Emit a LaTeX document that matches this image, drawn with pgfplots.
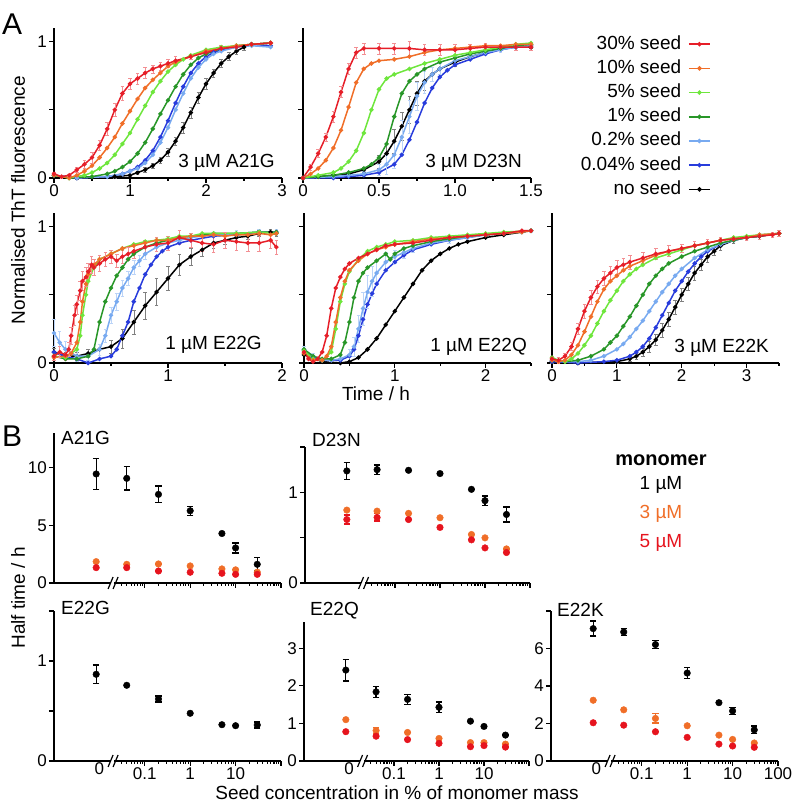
\documentclass[border=0pt]{standalone}
\usepackage{fontspec}
\setmainfont{Liberation Sans}
\usepackage{pgfplots}
\pgfplotsset{compat=1.18}
\definecolor{cR}{RGB}{230,30,40}
\definecolor{cO}{RGB}{240,110,40}
\definecolor{cLG}{RGB}{110,230,60}
\definecolor{cDG}{RGB}{40,150,40}
\definecolor{cLB}{RGB}{120,170,240}
\definecolor{cB}{RGB}{40,60,220}
\definecolor{bO}{RGB}{240,110,40}
\definecolor{bR}{RGB}{230,20,30}
\newcommand{\lbl}{\fontsize{19}{23}\selectfont}
\newcommand{\tkl}{\fontsize{17}{20}\selectfont}
\newcommand{\brk}{%
  \draw[white, line width=4pt] (axis cs:0.0175,0) -- (axis cs:0.0215,0);
  \draw[line width=1.2pt] ([xshift=-5pt,yshift=-6pt]axis cs:0.02,0) -- ++(5pt,12pt);
  \draw[line width=1.2pt] ([xshift=0pt,yshift=-6pt]axis cs:0.02,0) -- ++(5pt,12pt);}
\pgfplotsset{
  base/.style={scale only axis, anchor=south west, axis x line*=bottom, axis y line*=left,
    axis line style={line width=1.3pt}, tick align=outside, major tick length=5pt, minor tick length=3pt,
    tick style={line width=1.1pt, black}, tick label style={font=\tkl},
    xticklabel style={inner sep=1.5pt}, yticklabel style={inner sep=2pt},
    /pgf/number format/assume math mode=true, clip=false, ymin=0},
  Aax/.style={base, height=150pt, ymax=1.1, ytick={0,0.5,1}, yticklabels={}, xmin=0},
  curve/.style={line width=1.5pt, mark=*, mark size=1.4pt, color=#1},
  ecurve/.style={curve=#1, error bars/y dir=both, error bars/y explicit,
    error bars/error bar style={line width=0.6pt,#1!50},
    error bars/error mark options={rotate=90,mark size=1.8pt,line width=0.6pt,#1!50}},
  Bax/.style={base, xmin=0.001, xmax=100, width=227pt,
    xtick={0.1,1,10,100}, xticklabels={},
    minor xtick={0.03,0.04,0.05,0.06,0.07,0.08,0.09,0.2,0.3,0.4,0.5,0.6,0.7,0.8,0.9,2,3,4,5,6,7,8,9,20,30,40,50,60,70,80,90},
    extra x ticks={0.01}, extra x tick labels={}, extra x tick style={major tick length=0pt}},
  berr/.style={only marks, mark=*, mark size=3.3pt, color=#1,
    error bars/y dir=both, error bars/y explicit,
    error bars/error bar style={line width=1.3pt,#1},
    error bars/error mark options={rotate=90,mark size=3.2pt,line width=1.3pt,#1}},
}
\begin{document}
\begin{tikzpicture}
\useasboundingbox (0pt,0pt) rectangle (793pt,806pt);

% ---------------- A1: A21G
\begin{axis}[Aax, at={(54pt,628pt)}, width=228pt, xmax=3, xtick={0,1,2,3}, minor xtick={0.5,1.5,2.5}, yticklabels={0,,1}]
\addplot[ecurve=black] coordinates {(0,0.02)+-(0,0.01)(0.3,0.0)+-(0,0.01)(0.8,0.01)+-(0,0.01)(1.0,0.02)+-(0,0.01)(1.1,0.04)+-(0,0.01)(1.2,0.06)+-(0,0.02)(1.3,0.09)+-(0,0.02)(1.4,0.13)+-(0,0.02)(1.5,0.19)+-(0,0.03)(1.6,0.27)+-(0,0.03)(1.7,0.37)+-(0,0.04)(1.8,0.48)+-(0,0.04)(1.9,0.59)+-(0,0.04)(2.0,0.69)+-(0,0.04)(2.1,0.77)+-(0,0.03)(2.2,0.84)+-(0,0.03)(2.3,0.89)+-(0,0.03)(2.4,0.93)+-(0,0.02)(2.5,0.96)+-(0,0.02)(2.6,0.98)+-(0,0.01)(2.85,0.99)+-(0,0.01)};
\addplot[curve=cB] coordinates {(0,0.02)(0.3,0.0)(0.7,0.01)(0.9,0.03)(1.0,0.05)(1.1,0.08)(1.2,0.13)(1.3,0.2)(1.4,0.3)(1.5,0.42)(1.6,0.55)(1.7,0.67)(1.8,0.77)(1.9,0.84)(2.0,0.89)(2.1,0.92)(2.2,0.94)(2.4,0.96)(2.6,0.98)(2.85,0.97)};
\addplot[curve=cLB] coordinates {(0,0.02)(0.3,0.0)(0.7,0.01)(0.9,0.03)(1.0,0.05)(1.1,0.07)(1.2,0.11)(1.3,0.17)(1.4,0.26)(1.5,0.37)(1.6,0.5)(1.7,0.62)(1.8,0.73)(1.9,0.81)(2.0,0.87)(2.1,0.91)(2.2,0.93)(2.4,0.96)(2.6,0.97)(2.85,0.96)};
\addplot[curve=cDG] coordinates {(0,0.02)(0.2,0.0)(0.5,0.01)(0.7,0.03)(0.8,0.05)(0.9,0.08)(1.0,0.12)(1.1,0.18)(1.2,0.26)(1.3,0.36)(1.4,0.47)(1.5,0.57)(1.6,0.67)(1.7,0.76)(1.8,0.83)(1.9,0.88)(2.0,0.91)(2.2,0.95)(2.4,0.97)(2.6,0.98)(2.85,0.99)};
\addplot[curve=cLG] coordinates {(0,0.02)(0.2,0.0)(0.4,0.02)(0.5,0.04)(0.6,0.07)(0.7,0.11)(0.8,0.17)(0.9,0.25)(1.0,0.33)(1.1,0.43)(1.2,0.53)(1.3,0.63)(1.4,0.71)(1.5,0.78)(1.6,0.83)(1.7,0.87)(1.8,0.9)(2.0,0.94)(2.2,0.96)(2.4,0.97)(2.6,0.98)(2.85,0.99)};
\addplot[curve=cO] coordinates {(0,0.02)(0.2,0.0)(0.3,0.02)(0.4,0.05)(0.5,0.09)(0.6,0.15)(0.7,0.22)(0.8,0.3)(0.9,0.4)(1.0,0.49)(1.1,0.58)(1.2,0.66)(1.3,0.72)(1.4,0.77)(1.5,0.82)(1.6,0.85)(1.8,0.89)(2.0,0.93)(2.2,0.95)(2.4,0.97)(2.6,0.98)(2.85,0.99)};
\addplot[ecurve=cR] coordinates {(0,0.03)+-(0,0.01)(0.1,0.01)+-(0,0.01)(0.2,0.02)+-(0,0.01)(0.3,0.06)+-(0,0.02)(0.4,0.1)+-(0,0.03)(0.5,0.15)+-(0,0.04)(0.6,0.24)+-(0,0.04)(0.7,0.36)+-(0,0.05)(0.8,0.5)+-(0,0.05)(0.9,0.62)+-(0,0.05)(1.0,0.69)+-(0,0.04)(1.1,0.73)+-(0,0.04)(1.2,0.77)+-(0,0.04)(1.3,0.8)+-(0,0.03)(1.4,0.82)+-(0,0.03)(1.5,0.84)+-(0,0.03)(1.6,0.86)+-(0,0.03)(1.8,0.89)+-(0,0.02)(2.0,0.92)+-(0,0.02)(2.2,0.95)+-(0,0.02)(2.4,0.96)+-(0,0.02)(2.6,0.98)+-(0,0.01)(2.85,0.99)+-(0,0.01)};
\end{axis}

% ---------------- A2: D23N (with legend)
\begin{axis}[Aax, at={(303pt,628pt)}, width=228pt, xmax=1.5, xtick={0,0.5,1,1.5}, xticklabels={0,0.5,1.0,1.5}, minor xtick={0.25,0.75,1.25},
  legend style={at={(axis description cs:1.789,0.96)}, anchor=north east, draw=none, fill=none, font=\lbl,
    row sep=4.2pt, column sep=6pt, inner sep=0pt, nodes={inner sep=1pt, text height=14pt, text depth=4pt}},
  legend cell align=right, legend plot pos=right, reverse legend,
  legend image code/.code={\draw[mark repeat=2,mark phase=2,#1] plot coordinates {(0pt,0pt) (10.5pt,0pt) (21pt,0pt)};}]
\addplot[ecurve=black] coordinates {(0,0.0)+-(0,0.01)(0.1,0.01)+-(0,0.01)(0.2,0.02)+-(0,0.01)(0.3,0.03)+-(0,0.01)(0.4,0.06)+-(0,0.02)(0.5,0.12)+-(0,0.05)(0.55,0.18)+-(0,0.07)(0.6,0.27)+-(0,0.09)(0.65,0.38)+-(0,0.1)(0.7,0.5)+-(0,0.1)(0.75,0.62)+-(0,0.09)(0.8,0.71)+-(0,0.07)(0.85,0.76)+-(0,0.05)(0.9,0.8)+-(0,0.04)(1.0,0.85)+-(0,0.03)(1.1,0.89)+-(0,0.02)(1.2,0.92)+-(0,0.02)(1.3,0.95)+-(0,0.01)(1.4,0.96)+-(0,0.01)(1.5,0.96)+-(0,0.01)};
\addplot[curve=cB] coordinates {(0,0.0)(0.2,0.0)(0.3,0.01)(0.4,0.02)(0.5,0.04)(0.6,0.1)(0.65,0.17)(0.7,0.28)(0.75,0.41)(0.8,0.55)(0.85,0.66)(0.9,0.74)(0.95,0.79)(1.0,0.83)(1.1,0.87)(1.2,0.91)(1.3,0.94)(1.4,0.96)(1.5,0.97)};
\addplot[ecurve=cLB] coordinates {(0,0.0)+-(0,0.01)(0.2,0.01)+-(0,0.01)(0.3,0.02)+-(0,0.01)(0.4,0.03)+-(0,0.02)(0.5,0.06)+-(0,0.04)(0.55,0.1)+-(0,0.07)(0.6,0.17)+-(0,0.1)(0.65,0.3)+-(0,0.12)(0.7,0.45)+-(0,0.12)(0.75,0.6)+-(0,0.1)(0.8,0.7)+-(0,0.08)(0.85,0.76)+-(0,0.05)(0.9,0.8)+-(0,0.04)(1.0,0.86)+-(0,0.03)(1.1,0.89)+-(0,0.02)(1.2,0.92)+-(0,0.02)(1.3,0.94)+-(0,0.02)(1.4,0.96)+-(0,0.01)(1.5,0.97)+-(0,0.01)};
\addplot[curve=cDG] coordinates {(0,0.0)(0.1,0.01)(0.2,0.02)(0.3,0.04)(0.4,0.07)(0.45,0.1)(0.5,0.15)(0.55,0.25)(0.6,0.45)(0.65,0.62)(0.7,0.71)(0.75,0.76)(0.8,0.8)(0.9,0.85)(1.0,0.88)(1.1,0.91)(1.2,0.93)(1.3,0.95)(1.4,0.97)(1.5,0.98)};
\addplot[curve=cLG] coordinates {(0,0.0)(0.1,0.02)(0.2,0.04)(0.25,0.07)(0.3,0.12)(0.35,0.2)(0.4,0.33)(0.45,0.5)(0.5,0.65)(0.55,0.73)(0.6,0.76)(0.7,0.8)(0.8,0.84)(0.9,0.87)(1.0,0.9)(1.1,0.92)(1.2,0.94)(1.3,0.96)(1.4,0.98)(1.5,0.99)};
\addplot[curve=cO] coordinates {(0,0.0)(0.05,0.03)(0.1,0.07)(0.15,0.13)(0.2,0.22)(0.25,0.35)(0.3,0.52)(0.35,0.7)(0.4,0.8)(0.45,0.84)(0.5,0.86)(0.6,0.87)(0.7,0.89)(0.8,0.92)(0.9,0.94)(1.0,0.95)(1.1,0.96)(1.2,0.97)(1.3,0.97)(1.4,0.98)(1.5,0.98)};
\addplot[ecurve=cR] coordinates {(0,0.0)+-(0,0.01)(0.05,0.08)+-(0,0.02)(0.1,0.18)+-(0,0.03)(0.15,0.3)+-(0,0.03)(0.2,0.45)+-(0,0.04)(0.25,0.63)+-(0,0.04)(0.3,0.8)+-(0,0.04)(0.35,0.92)+-(0,0.04)(0.4,0.95)+-(0,0.04)(0.5,0.95)+-(0,0.04)(0.6,0.95)+-(0,0.04)(0.7,0.95)+-(0,0.05)(0.8,0.94)+-(0,0.04)(0.9,0.94)+-(0,0.04)(1.0,0.94)+-(0,0.04)(1.1,0.95)+-(0,0.03)(1.2,0.96)+-(0,0.03)(1.3,0.96)+-(0,0.02)(1.4,0.96)+-(0,0.02)(1.5,0.96)+-(0,0.02)};
\legend{no seed,0.04\% seed,0.2\% seed,1\% seed,5\% seed,10\% seed,30\% seed}
\end{axis}

% ---------------- A3: E22G
\begin{axis}[Aax, at={(54pt,443pt)}, width=228pt, xmax=2, xtick={0,1,2}, minor xtick={0.5,1.5}, yticklabels={0,,1}]
\addplot[ecurve=black] coordinates {(0,0.08)+-(0,0.03)(0.1,0.05)+-(0,0.03)(0.2,0.05)+-(0,0.03)(0.3,0.07)+-(0,0.03)(0.4,0.1)+-(0,0.04)(0.5,0.12)+-(0,0.05)(0.6,0.18)+-(0,0.07)(0.7,0.3)+-(0,0.09)(0.8,0.42)+-(0,0.1)(0.9,0.52)+-(0,0.1)(1.0,0.62)+-(0,0.09)(1.1,0.72)+-(0,0.08)(1.2,0.78)+-(0,0.06)(1.3,0.83)+-(0,0.05)(1.4,0.88)+-(0,0.04)(1.5,0.9)+-(0,0.03)(1.6,0.92)+-(0,0.03)(1.7,0.93)+-(0,0.02)(1.8,0.95)+-(0,0.02)(1.9,0.96)+-(0,0.02)(1.95,0.95)+-(0,0.02)};
\addplot[curve=cB] coordinates {(0,0.08)(0.1,0.05)(0.2,0.03)(0.3,0.0)(0.4,0.03)(0.5,0.05)(0.55,0.1)(0.6,0.2)(0.65,0.3)(0.7,0.45)(0.75,0.55)(0.8,0.65)(0.85,0.72)(0.9,0.78)(0.95,0.82)(1.0,0.85)(1.1,0.88)(1.2,0.9)(1.4,0.93)(1.6,0.94)(1.8,0.96)(1.95,0.96)};
\addplot[ecurve=cLB] coordinates {(0,0.22)+-(0,0.1)(0.05,0.15)+-(0,0.08)(0.1,0.1)+-(0,0.06)(0.2,0.05)+-(0,0.04)(0.3,0.05)+-(0,0.03)(0.4,0.1)+-(0,0.04)(0.45,0.2)+-(0,0.05)(0.5,0.35)+-(0,0.06)(0.55,0.45)+-(0,0.06)(0.6,0.55)+-(0,0.06)(0.65,0.62)+-(0,0.05)(0.7,0.7)+-(0,0.05)(0.75,0.75)+-(0,0.04)(0.8,0.8)+-(0,0.04)(0.9,0.85)+-(0,0.03)(1.0,0.88)+-(0,0.03)(1.1,0.9)+-(0,0.02)(1.2,0.92)+-(0,0.02)(1.4,0.94)+-(0,0.02)(1.6,0.95)+-(0,0.02)(1.8,0.96)+-(0,0.02)(1.95,0.96)+-(0,0.02)};
\addplot[curve=cDG] coordinates {(0,0.05)(0.1,0.03)(0.2,0.03)(0.3,0.05)(0.35,0.1)(0.4,0.3)(0.45,0.45)(0.5,0.55)(0.55,0.64)(0.6,0.7)(0.65,0.76)(0.7,0.8)(0.8,0.85)(0.9,0.88)(1.0,0.9)(1.1,0.92)(1.2,0.93)(1.3,0.94)(1.4,0.95)(1.6,0.95)(1.8,0.96)(1.95,0.96)};
\addplot[curve=cLG] coordinates {(0,0.05)(0.1,0.04)(0.2,0.1)(0.23,0.2)(0.25,0.35)(0.28,0.5)(0.3,0.6)(0.35,0.7)(0.4,0.76)(0.5,0.8)(0.6,0.84)(0.7,0.87)(0.8,0.89)(0.9,0.9)(1.0,0.91)(1.1,0.93)(1.2,0.93)(1.3,0.95)(1.4,0.95)(1.6,0.95)(1.8,0.96)(1.95,0.95)};
\addplot[curve=cO] coordinates {(0,0.04)(0.1,0.05)(0.15,0.07)(0.2,0.15)(0.23,0.3)(0.25,0.45)(0.28,0.58)(0.3,0.65)(0.35,0.72)(0.4,0.76)(0.5,0.8)(0.6,0.84)(0.7,0.86)(0.8,0.88)(0.9,0.9)(1.0,0.9)(1.1,0.92)(1.2,0.93)(1.3,0.93)(1.4,0.94)(1.5,0.93)(1.6,0.94)(1.7,0.94)(1.8,0.95)(1.9,0.94)(1.95,0.95)};
\addplot[ecurve=cR] coordinates {(0,0.05)+-(0,0.03)(0.05,0.08)+-(0,0.04)(0.1,0.06)+-(0,0.04)(0.13,0.1)+-(0,0.05)(0.15,0.2)+-(0,0.06)(0.18,0.35)+-(0,0.07)(0.2,0.43)+-(0,0.07)(0.23,0.53)+-(0,0.07)(0.25,0.6)+-(0,0.07)(0.28,0.63)+-(0,0.07)(0.3,0.67)+-(0,0.06)(0.33,0.72)+-(0,0.06)(0.35,0.7)+-(0,0.06)(0.4,0.73)+-(0,0.06)(0.45,0.76)+-(0,0.05)(0.5,0.78)+-(0,0.05)(0.55,0.75)+-(0,0.05)(0.6,0.78)+-(0,0.05)(0.65,0.8)+-(0,0.05)(0.7,0.82)+-(0,0.05)(0.8,0.85)+-(0,0.05)(0.9,0.87)+-(0,0.05)(1.0,0.88)+-(0,0.05)(1.1,0.92)+-(0,0.05)(1.2,0.9)+-(0,0.05)(1.3,0.88)+-(0,0.06)(1.4,0.87)+-(0,0.06)(1.5,0.9)+-(0,0.06)(1.6,0.89)+-(0,0.06)(1.7,0.88)+-(0,0.06)(1.8,0.88)+-(0,0.06)(1.9,0.9)+-(0,0.06)(1.95,0.85)+-(0,0.05)};
\end{axis}

% ---------------- A4: E22Q
\begin{axis}[Aax, at={(304pt,443pt)}, width=227pt, xmax=2.5, xtick={0,1,2}, minor xtick={0.5,1.5,2.5}]
\addplot[curve=black] coordinates {(0,0.06)(0.2,0.01)(0.4,0.0)(0.5,0.01)(0.6,0.04)(0.7,0.1)(0.8,0.18)(0.9,0.28)(1.0,0.38)(1.1,0.48)(1.2,0.58)(1.3,0.68)(1.4,0.75)(1.5,0.8)(1.6,0.84)(1.7,0.87)(1.8,0.89)(2.0,0.92)(2.2,0.94)(2.4,0.96)(2.5,0.97)};
\addplot[curve=cB] coordinates {(0,0.09)(0.1,0.04)(0.2,0.02)(0.3,0.02)(0.4,0.02)(0.5,0.05)(0.55,0.1)(0.6,0.2)(0.65,0.32)(0.7,0.43)(0.75,0.51)(0.8,0.58)(0.9,0.68)(1.0,0.74)(1.1,0.79)(1.2,0.83)(1.4,0.87)(1.6,0.9)(1.8,0.92)(2.0,0.94)(2.2,0.95)(2.5,0.97)};
\addplot[ecurve=cLB] coordinates {(0,0.1)+-(0,0.02)(0.1,0.05)+-(0,0.02)(0.2,0.02)+-(0,0.01)(0.3,0.02)+-(0,0.01)(0.4,0.03)+-(0,0.02)(0.5,0.06)+-(0,0.04)(0.55,0.12)+-(0,0.07)(0.6,0.25)+-(0,0.1)(0.65,0.4)+-(0,0.12)(0.7,0.52)+-(0,0.12)(0.75,0.6)+-(0,0.11)(0.8,0.66)+-(0,0.09)(0.9,0.74)+-(0,0.07)(1.0,0.78)+-(0,0.05)(1.1,0.81)+-(0,0.04)(1.2,0.84)+-(0,0.03)(1.4,0.88)+-(0,0.02)(1.6,0.9)+-(0,0.02)(1.8,0.92)+-(0,0.02)(2.0,0.94)+-(0,0.01)(2.2,0.95)+-(0,0.01)(2.5,0.97)+-(0,0.01)};
\addplot[curve=cDG] coordinates {(0,0.1)(0.1,0.05)(0.2,0.03)(0.3,0.03)(0.4,0.06)(0.45,0.15)(0.5,0.3)(0.55,0.48)(0.6,0.6)(0.65,0.66)(0.7,0.7)(0.8,0.75)(0.9,0.8)(0.95,0.76)(1.0,0.8)(1.1,0.84)(1.2,0.86)(1.4,0.89)(1.6,0.91)(1.8,0.93)(2.0,0.94)(2.2,0.95)(2.5,0.97)};
\addplot[curve=cLG] coordinates {(0,0.09)(0.1,0.03)(0.2,0.02)(0.3,0.08)(0.35,0.25)(0.4,0.45)(0.45,0.58)(0.5,0.67)(0.6,0.76)(0.7,0.82)(0.8,0.85)(0.9,0.87)(1.0,0.89)(1.2,0.9)(1.4,0.92)(1.6,0.93)(1.8,0.94)(2.0,0.95)(2.2,0.96)(2.5,0.97)};
\addplot[curve=cO] coordinates {(0,0.07)(0.1,0.02)(0.2,0.02)(0.25,0.05)(0.3,0.12)(0.35,0.3)(0.4,0.48)(0.45,0.6)(0.5,0.68)(0.6,0.75)(0.7,0.8)(0.8,0.83)(0.9,0.85)(1.0,0.87)(1.2,0.89)(1.4,0.91)(1.6,0.92)(1.8,0.93)(2.0,0.94)(2.2,0.95)(2.4,0.96)(2.5,0.97)};
\addplot[curve=cR] coordinates {(0,0.08)(0.05,0.03)(0.1,0.01)(0.15,0.03)(0.2,0.08)(0.25,0.2)(0.3,0.4)(0.35,0.55)(0.4,0.63)(0.45,0.69)(0.5,0.73)(0.6,0.77)(0.7,0.8)(0.8,0.83)(0.9,0.86)(1.0,0.87)(1.2,0.88)(1.4,0.9)(1.6,0.92)(1.8,0.93)(2.0,0.94)(2.2,0.95)(2.4,0.97)(2.5,0.97)};
\end{axis}

% ---------------- A5: E22K
\begin{axis}[Aax, at={(552pt,443pt)}, width=227pt, xmax=3.5, xtick={0,1,2,3}, minor xtick={0.5,1.5,2.5,3.5}]
\addplot[ecurve=black] coordinates {(0,0.01)+-(0,0.01)(0.4,0.0)+-(0,0.01)(1.0,0.01)+-(0,0.01)(1.2,0.03)+-(0,0.02)(1.3,0.05)+-(0,0.02)(1.4,0.08)+-(0,0.03)(1.5,0.12)+-(0,0.04)(1.6,0.17)+-(0,0.04)(1.7,0.24)+-(0,0.05)(1.8,0.32)+-(0,0.05)(1.9,0.41)+-(0,0.05)(2.0,0.5)+-(0,0.05)(2.1,0.58)+-(0,0.05)(2.2,0.66)+-(0,0.05)(2.3,0.72)+-(0,0.04)(2.4,0.78)+-(0,0.04)(2.5,0.82)+-(0,0.03)(2.6,0.86)+-(0,0.03)(2.8,0.9)+-(0,0.02)(3.0,0.92)+-(0,0.02)(3.2,0.93)+-(0,0.02)(3.5,0.95)+-(0,0.02)};
\addplot[curve=cB] coordinates {(0,0.01)(0.4,0.0)(0.8,0.01)(1.0,0.02)(1.2,0.05)(1.3,0.08)(1.4,0.12)(1.5,0.18)(1.6,0.26)(1.7,0.35)(1.8,0.44)(1.9,0.53)(2.0,0.6)(2.1,0.67)(2.2,0.73)(2.3,0.78)(2.4,0.82)(2.6,0.87)(2.8,0.9)(3.0,0.92)(3.2,0.93)(3.5,0.95)};
\addplot[curve=cLB] coordinates {(0,0.02)(0.2,0.01)(0.4,0.01)(0.6,0.02)(0.8,0.05)(1.0,0.1)(1.1,0.14)(1.2,0.19)(1.3,0.25)(1.4,0.31)(1.5,0.38)(1.6,0.45)(1.7,0.52)(1.8,0.58)(1.9,0.64)(2.0,0.69)(2.2,0.77)(2.4,0.83)(2.6,0.87)(2.8,0.9)(3.0,0.92)(3.2,0.94)(3.5,0.95)};
\addplot[curve=cDG] coordinates {(0,0.02)(0.2,0.01)(0.4,0.02)(0.6,0.05)(0.8,0.1)(0.9,0.15)(1.0,0.2)(1.1,0.27)(1.2,0.34)(1.3,0.42)(1.4,0.5)(1.5,0.58)(1.6,0.64)(1.7,0.69)(1.8,0.73)(2.0,0.78)(2.2,0.82)(2.4,0.85)(2.6,0.88)(2.8,0.9)(3.0,0.92)(3.2,0.93)(3.5,0.95)};
\addplot[curve=cLG] coordinates {(0,0.04)(0.1,0.02)(0.2,0.01)(0.3,0.03)(0.4,0.07)(0.5,0.13)(0.6,0.2)(0.7,0.29)(0.8,0.38)(0.9,0.46)(1.0,0.53)(1.1,0.6)(1.2,0.65)(1.3,0.69)(1.4,0.72)(1.6,0.77)(1.8,0.8)(2.0,0.83)(2.2,0.86)(2.4,0.88)(2.6,0.9)(2.8,0.92)(3.0,0.93)(3.2,0.94)(3.5,0.95)};
\addplot[curve=cO] coordinates {(0,0.02)(0.1,0.01)(0.2,0.02)(0.3,0.06)(0.4,0.13)(0.5,0.23)(0.6,0.34)(0.7,0.45)(0.8,0.54)(0.9,0.6)(1.0,0.64)(1.1,0.68)(1.2,0.71)(1.4,0.75)(1.6,0.79)(1.8,0.82)(2.0,0.84)(2.2,0.86)(2.4,0.88)(2.6,0.9)(2.8,0.91)(3.0,0.92)(3.2,0.94)(3.5,0.95)};
\addplot[ecurve=cR] coordinates {(0,0.03)+-(0,0.02)(0.1,0.02)+-(0,0.02)(0.2,0.05)+-(0,0.02)(0.3,0.12)+-(0,0.03)(0.4,0.25)+-(0,0.04)(0.5,0.38)+-(0,0.05)(0.6,0.48)+-(0,0.05)(0.7,0.56)+-(0,0.05)(0.8,0.62)+-(0,0.05)(0.9,0.66)+-(0,0.05)(1.0,0.7)+-(0,0.05)(1.1,0.72)+-(0,0.05)(1.2,0.74)+-(0,0.05)(1.4,0.77)+-(0,0.04)(1.6,0.8)+-(0,0.04)(1.8,0.82)+-(0,0.04)(2.0,0.84)+-(0,0.03)(2.2,0.86)+-(0,0.03)(2.4,0.88)+-(0,0.03)(2.6,0.9)+-(0,0.02)(2.8,0.91)+-(0,0.02)(3.0,0.92)+-(0,0.02)(3.2,0.93)+-(0,0.02)(3.4,0.94)+-(0,0.02)(3.5,0.95)+-(0,0.02)};
\end{axis}

% ---------------- B1: A21G
\begin{axis}[xmode=log, Bax, at={(54pt,223pt)}, height=150pt, ymax=13, ytick={0,5,10}]
\addplot[berr=bO] table[x index=0,y index=1,y error index=2] {
0.0085 1.85 0
0.04 1.62 0
0.2 1.65 0
1 1.48 0
5 1.22 0
10 1.14 0
30 0.94 0
};
\addplot[berr=bR] table[x index=0,y index=1,y error index=2] {
0.0085 1.33 0
0.04 1.33 0
0.2 1.04 0
1 0.93 0
5 0.84 0
10 0.75 0
30 0.75 0
};
\addplot[berr=black] table[x index=0,y index=1,y error index=2] {
0.0085 9.45 1.35
0.04 9.07 1.0
0.2 7.68 0.72
1 6.26 0.4
5 4.29 0
10 3.04 0.43
30 1.62 0.58
};
\brk
\end{axis}

% ---------------- B2: D23N
\begin{axis}[xmode=log, Bax, at={(305pt,223pt)}, width=225pt, height=136pt, ymax=1.5, ytick={0,0.5,1,1.5}, yticklabels={0,,1,}]
\addplot[berr=bO] table[x index=0,y index=1,y error index=2] {
0.0085 0.804 0
0.04 0.793 0
0.2 0.768 0
1 0.72 0
5 0.535 0
10 0.498 0
30 0.376 0
};
\addplot[berr=bR] table[x index=0,y index=1,y error index=2] {
0.0085 0.70 0.05
0.04 0.723 0.04
0.2 0.70 0
1 0.613 0
5 0.476 0
10 0.387 0
30 0.336 0
};
\addplot[berr=black] table[x index=0,y index=1,y error index=2] {
0.0085 1.236 0.092
0.04 1.25 0.05
0.2 1.243 0
1 1.207 0
5 1.033 0
10 0.908 0.05
30 0.756 0.083
};
\brk
\end{axis}

% ---------------- B3: E22G
\begin{axis}[xmode=log, Bax, at={(54pt,45pt)}, height=150pt, ymax=1.5, ytick={0,0.5,1,1.5}, yticklabels={0,,1,}, xticklabels={0.1,1,10,}, extra x tick labels={0}]
\addplot[berr=black] table[x index=0,y index=1,y error index=2] {
0.0085 0.867 0.092
0.04 0.757 0
0.2 0.62 0.03
1 0.477 0
5 0.363 0
10 0.353 0
30 0.36 0.03
};
\brk
\end{axis}

% ---------------- B4: E22Q
\begin{axis}[xmode=log, Bax, at={(304pt,45pt)}, width=225pt, height=139pt, ymax=3.7, ytick={0,1,2,3}, xticklabels={0.1,1,10,}, extra x tick labels={0}]
\addplot[berr=bO] table[x index=0,y index=1,y error index=2] {
0.0085 1.10 0
0.04 0.81 0.09
0.2 0.76 0
1 0.60 0
5 0.49 0
10 0.49 0
30 0.45 0
};
\addplot[berr=bR] table[x index=0,y index=1,y error index=2] {
0.0085 0.78 0
0.04 0.66 0
0.2 0.57 0
1 0.47 0
5 0.38 0
10 0.41 0
30 0.37 0
};
\addplot[berr=black] table[x index=0,y index=1,y error index=2] {
0.0085 2.42 0.29
0.04 1.84 0.15
0.2 1.64 0.13
1 1.43 0.14
5 1.06 0
10 0.92 0
30 0.69 0
};
\brk
\end{axis}

% ---------------- B5: E22K
\begin{axis}[xmode=log, Bax, at={(551pt,45pt)}, height=150pt, ymax=8, ytick={0,2,4,6,8}, yticklabels={0,2,4,6,}, xticklabels={0.1,1,10,100}, extra x tick labels={0}]
\addplot[berr=bO] table[x index=0,y index=1,y error index=2] {
0.0085 3.24 0
0.04 2.73 0
0.2 2.27 0.25
1 1.88 0
5 1.38 0
10 1.15 0
30 0.96 0
};
\addplot[berr=bR] table[x index=0,y index=1,y error index=2] {
0.0085 2.04 0
0.04 1.91 0
0.2 1.56 0
1 1.26 0
5 0.9 0
10 0.8 0
30 0.73 0
};
\addplot[berr=black] table[x index=0,y index=1,y error index=2] {
0.0085 7.06 0.4
0.04 6.88 0.2
0.2 6.21 0.2
1 4.69 0.3
5 3.11 0
10 2.67 0.2
30 1.66 0.2
};
\brk
\end{axis}

% ---------------- texts
\node[font=\fontsize{30}{36}\selectfont, anchor=base west, inner sep=0pt] at (2pt,771pt) {A};
\node[font=\fontsize{30}{36}\selectfont, anchor=base west, inner sep=0pt] at (2pt,359pt) {B};
\node[font=\lbl, rotate=90] at (18pt,606pt) {Normalised ThT fluorescence};
\node[font=\lbl, rotate=90] at (18pt,208pt) {Half time / h};
\node[font=\lbl, anchor=base] at (376pt,405pt) {Time / h};
\node[font=\lbl, anchor=base] at (397pt,6pt) {Seed concentration in \% of monomer mass};
\node[font=\lbl, anchor=base east, inner sep=0pt] at (275pt,638pt) {3 µM A21G};
\node[font=\lbl, anchor=base east, inner sep=0pt] at (522pt,638pt) {3 µM D23N};
\node[font=\lbl, anchor=base east, inner sep=0pt] at (262pt,456pt) {1 µM E22G};
\node[font=\lbl, anchor=base east, inner sep=0pt] at (527pt,454pt) {1 µM E22Q};
\node[font=\lbl, anchor=base east, inner sep=0pt] at (769pt,453pt) {3 µM E22K};
\node[font=\lbl, anchor=base west, inner sep=0pt] at (61pt,361pt) {A21G};
\node[font=\lbl, anchor=base west, inner sep=0pt] at (312pt,359pt) {D23N};
\node[font=\lbl, anchor=base west, inner sep=0pt] at (61pt,191pt) {E22G};
\node[font=\lbl, anchor=base west, inner sep=0pt] at (310pt,190pt) {E22Q};
\node[font=\lbl, anchor=base west, inner sep=0pt] at (557pt,189pt) {E22K};
\node[font=\fontsize{20}{24}\selectfont\bfseries, anchor=base] at (661pt,340pt) {monomer};
\node[font=\lbl, anchor=base] at (661pt,316pt) {1 µM};
\node[font=\lbl, anchor=base, text=bO] at (661pt,287pt) {3 µM};
\node[font=\lbl, anchor=base, text=bR] at (661pt,258pt) {5 µM};
\end{tikzpicture}
\end{document}
